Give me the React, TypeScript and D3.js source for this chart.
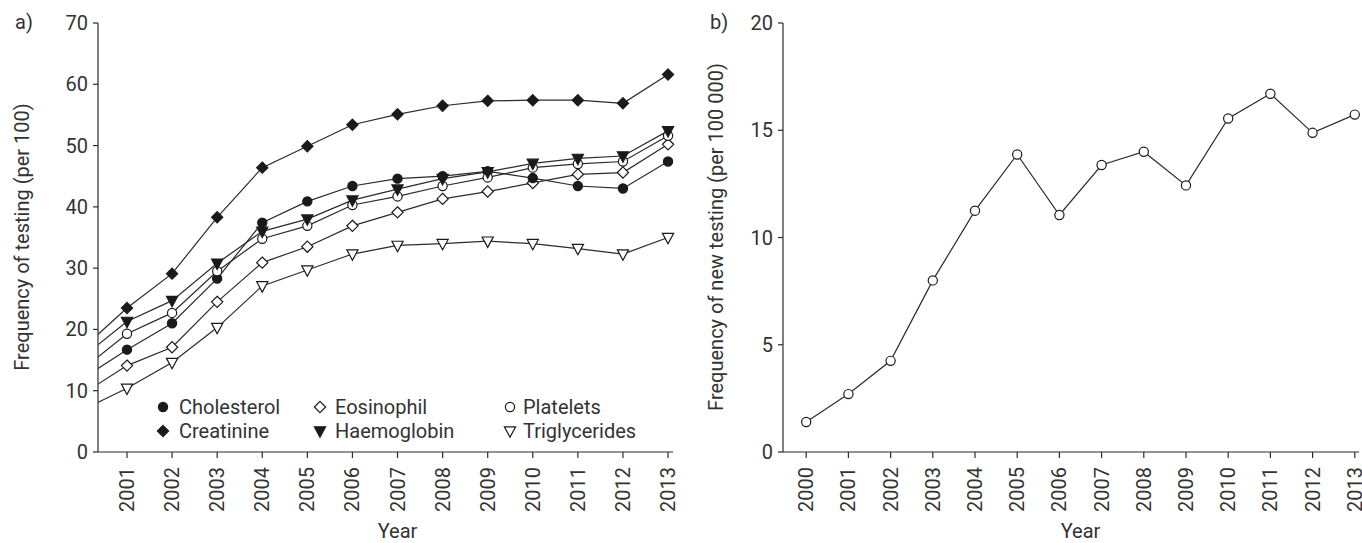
import React from "react";
import * as d3 from "d3";

const yearsA = [2000, 2001, 2002, 2003, 2004, 2005, 2006, 2007, 2008, 2009, 2010, 2011, 2012, 2013];
const tickYearsA = [2001, 2002, 2003, 2004, 2005, 2006, 2007, 2008, 2009, 2010, 2011, 2012, 2013];
const cholesterol = [11.9, 16.7, 21.0, 28.3, 37.4, 40.9, 43.4, 44.6, 45.0, 45.8, 44.7, 43.4, 43.0, 47.4];
const creatinine = [16.8, 23.5, 29.1, 38.3, 46.4, 49.9, 53.4, 55.1, 56.5, 57.3, 57.4, 57.4, 56.9, 61.6];
const eosinophil = [9.4, 14.1, 17.1, 24.5, 30.9, 33.5, 36.9, 39.1, 41.3, 42.5, 43.9, 45.3, 45.6, 50.2];
const haemoglobin = [15.4, 21.3, 24.7, 30.8, 36.0, 38.0, 41.1, 42.9, 44.6, 45.7, 47.1, 47.9, 48.3, 52.4];
const platelets = [13.4, 19.3, 22.7, 29.5, 34.8, 36.9, 40.3, 41.7, 43.4, 44.8, 46.4, 47.0, 47.4, 51.6];
const triglycerides = [6.8, 10.4, 14.6, 20.3, 27.1, 29.7, 32.3, 33.7, 34.0, 34.4, 34.0, 33.2, 32.3, 35.0];
const ticksA = [0, 10, 20, 30, 40, 50, 60, 70];

const yearsB = [2000, 2001, 2002, 2003, 2004, 2005, 2006, 2007, 2008, 2009, 2010, 2011, 2012, 2013];
const newTesting = [1.4, 2.7, 4.25, 8.0, 11.25, 13.87, 11.05, 13.38, 14.0, 12.43, 15.55, 16.7, 14.88, 15.73];
const ticksB = [0, 5, 10, 15, 20];

type Shape = "circle" | "diamond" | "down";
const seriesA: { name: string; values: number[]; shape: Shape; filled: boolean }[] = [
  { name: "Triglycerides", values: triglycerides, shape: "down", filled: false },
  { name: "Eosinophil", values: eosinophil, shape: "diamond", filled: false },
  { name: "Cholesterol", values: cholesterol, shape: "circle", filled: true },
  { name: "Platelets", values: platelets, shape: "circle", filled: false },
  { name: "Haemoglobin", values: haemoglobin, shape: "down", filled: true },
  { name: "Creatinine", values: creatinine, shape: "diamond", filled: true },
];
const legendRows = [
  ["Cholesterol", "Eosinophil", "Platelets"],
  ["Creatinine", "Haemoglobin", "Triglycerides"],
];

const FONT = "Roboto, 'DejaVu Sans', sans-serif";
const INK = "#2b2b2b";
const TXT = "#333";

function Marker({ x, y, shape, filled }: { x: number; y: number; shape: Shape; filled: boolean }) {
  const fill = filled ? "#1a1a1a" : "#fff";
  const stroke = "#1a1a1a";
  if (shape === "circle") return <circle cx={x} cy={y} r={4.6} fill={fill} stroke={stroke} strokeWidth={1.2} />;
  if (shape === "diamond") {
    const s = 5.6;
    return <path d={`M${x},${y - s}L${x + s},${y}L${x},${y + s}L${x - s},${y}Z`} fill={fill} stroke={stroke} strokeWidth={1.2} />;
  }
  const w = 5.6, h = 4.2;
  return <path d={`M${x - w},${y - h}L${x + w},${y - h}L${x},${y + h + 2}Z`} fill={fill} stroke={stroke} strokeWidth={1.2} />;
}

export default function App() {
  const top = 23, bottom = 452;
  const xA = d3.scaleLinear().domain([2000.357, 2013.11]).range([98, 673]);
  const yA = d3.scaleLinear().domain([0, 70]).range([bottom, top]);
  const xB = d3.scaleLinear().domain([1999.45, 2013.1]).range([783, 1359]);
  const yB = d3.scaleLinear().domain([0, 20]).range([bottom, top]);

  const lineA = (vals: number[]) =>
    d3.line<number>().x((_, i) => xA(yearsA[i])).y((d) => yA(d))(vals) || "";
  const lineB = d3.line<number>().x((_, i) => xB(yearsB[i])).y((d) => yB(d))(newTesting) || "";

  const byName = new Map(seriesA.map((s) => [s.name, s]));
  const legendX = [[163, 179], [320, 335], [510, 523]];
  const legendY = [407, 431];

  return (
    <svg width={1362} height={543} style={{ position: "absolute", left: 0, top: 0, background: "#fff" }} fontFamily={FONT}>
      <defs>
        <clipPath id="clipA">
          <rect x={98} y={0} width={580} height={bottom} />
        </clipPath>
      </defs>
      {/* Panel a */}
      <text x={15} y={29} fontSize={20} fill={TXT}>a)</text>
      <line x1={98} x2={98} y1={top} y2={bottom} stroke={INK} strokeWidth={1.2} />
      <line x1={98} x2={673} y1={bottom} y2={bottom} stroke={INK} strokeWidth={1.2} />
      {ticksA.map((t) => (
        <g key={t}>
          <line x1={93} x2={98} y1={yA(t)} y2={yA(t)} stroke={INK} strokeWidth={1.2} />
          <text x={88} y={yA(t)} dy="0.35em" textAnchor="end" fontSize={20} fill={TXT}>{t}</text>
        </g>
      ))}
      {tickYearsA.map((yr) => (
        <g key={yr}>
          <line x1={xA(yr)} x2={xA(yr)} y1={bottom} y2={bottom + 6} stroke={INK} strokeWidth={1.2} />
          <text transform={`translate(${xA(yr)},${bottom + 15}) rotate(-90)`} dy="0.35em" textAnchor="end" fontSize={20} fill={TXT}>{yr}</text>
        </g>
      ))}
      <text x={(xA(2001) + xA(2013)) / 2} y={538} textAnchor="middle" fontSize={20} fill={TXT}>Year</text>
      <text transform={`translate(22,237) rotate(-90)`} dy="0.35em" textAnchor="middle" fontSize={20} fill={TXT}>Frequency of testing (per 100)</text>
      <g clipPath="url(#clipA)">
        {seriesA.map((s) => (
          <path key={s.name} d={lineA(s.values)} fill="none" stroke={INK} strokeWidth={1.2} />
        ))}
      </g>
      {seriesA.map((s) => (
        <g key={s.name}>
          {s.values.map((v, i) =>
            yearsA[i] >= 2001 ? <Marker key={i} x={xA(yearsA[i])} y={yA(v)} shape={s.shape} filled={s.filled} /> : null
          )}
        </g>
      ))}
      {legendRows.map((row, ri) =>
        row.map((name, ci) => {
          const s = byName.get(name)!;
          return (
            <g key={name}>
              <Marker x={legendX[ci][0]} y={legendY[ri]} shape={s.shape} filled={s.filled} />
              <text x={legendX[ci][1]} y={legendY[ri]} dy="0.35em" fontSize={20} fill={TXT}>{name}</text>
            </g>
          );
        })
      )}

      {/* Panel b */}
      <text x={710} y={29} fontSize={20} fill={TXT}>b)</text>
      <line x1={783} x2={783} y1={top} y2={bottom} stroke={INK} strokeWidth={1.2} />
      <line x1={783} x2={1359} y1={bottom} y2={bottom} stroke={INK} strokeWidth={1.2} />
      {ticksB.map((t) => (
        <g key={t}>
          <line x1={778} x2={783} y1={yB(t)} y2={yB(t)} stroke={INK} strokeWidth={1.2} />
          <text x={773} y={yB(t)} dy="0.35em" textAnchor="end" fontSize={20} fill={TXT}>{t}</text>
        </g>
      ))}
      {yearsB.map((yr) => (
        <g key={yr}>
          <line x1={xB(yr)} x2={xB(yr)} y1={bottom} y2={bottom + 6} stroke={INK} strokeWidth={1.2} />
          <text transform={`translate(${xB(yr)},${bottom + 15}) rotate(-90)`} dy="0.35em" textAnchor="end" fontSize={20} fill={TXT}>{yr}</text>
        </g>
      ))}
      <text x={(xB(2000) + xB(2013)) / 2} y={538} textAnchor="middle" fontSize={20} fill={TXT}>Year</text>
      <text transform={`translate(716,237) rotate(-90)`} dy="0.35em" textAnchor="middle" fontSize={20} fill={TXT}>Frequency of new testing (per 100 000)</text>
      <path d={lineB} fill="none" stroke={INK} strokeWidth={1.2} />
      {newTesting.map((v, i) => (
        <Marker key={i} x={xB(yearsB[i])} y={yB(v)} shape="circle" filled={false} />
      ))}
    </svg>
  );
}
